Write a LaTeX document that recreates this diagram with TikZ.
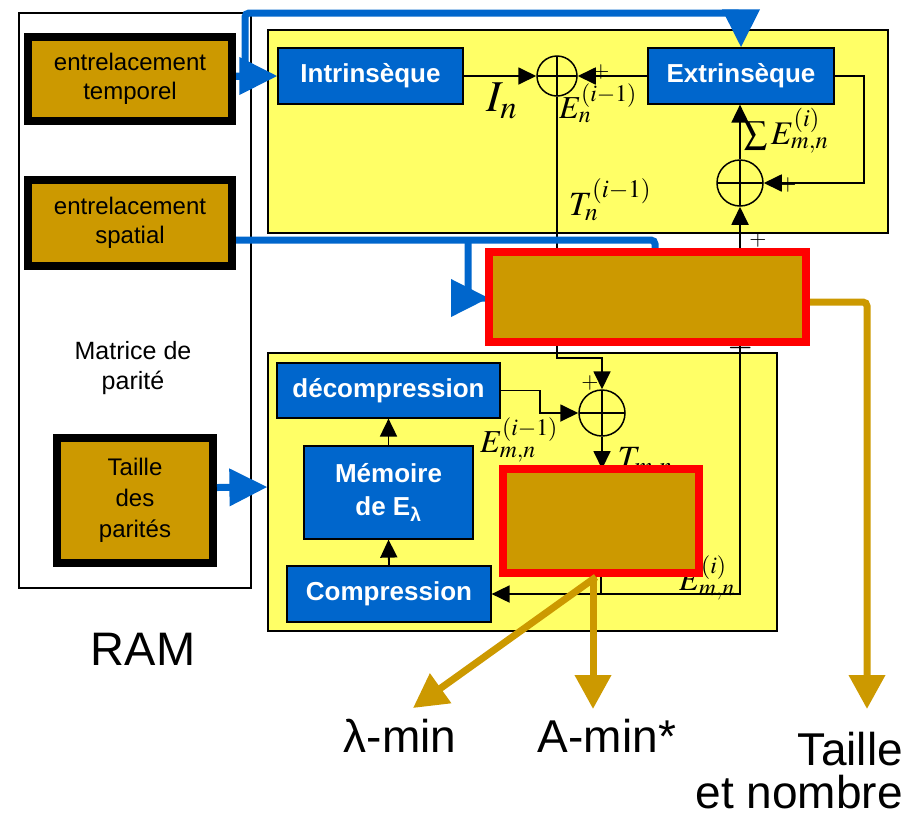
\documentclass[tikz,border=0pt]{standalone}
\usepackage{mathptmx}
\usepackage[no-math]{fontspec}
\setmainfont{Liberation Sans}
\usetikzlibrary{arrows.meta,positioning,calc}
\definecolor{gold}{HTML}{CC9900}
\definecolor{bleu}{HTML}{0066CC}
\definecolor{pale}{HTML}{FFFF66}
\tikzset{%
  % classes
  bank/.style={draw, line width=1.2pt, inner sep=0pt},
  store/.style={draw, line width=8pt, fill=gold, align=center, inner sep=0pt, font=\fontsize{24}{29}\selectfont},
  panel/.style={draw, fill=pale, line width=1.2pt, inner sep=0pt},
  unit/.style={draw, fill=bleu, text=white, line width=1.2pt, align=center, inner sep=0pt, font=\bfseries\fontsize{26}{33}\selectfont},
  adder/.style={circle, draw, line width=1.5pt, minimum size=#1, inner sep=0pt,
    path picture={\draw[line width=1.5pt] (path picture bounding box.north) -- (path picture bounding box.south)
      (path picture bounding box.west) -- (path picture bounding box.east);}},
  adder/.default=46pt,
  core/.style={draw=red, fill=gold, line width=8pt, inner sep=0pt},
  note/.style={align=center, inner sep=0pt, font=\fontsize{25}{30}\selectfont},
  lbl/.style={inner sep=0pt, font=\fontsize{32}{38}\selectfont},
  sign/.style={inner sep=0pt, font=\fontsize{22}{22}\selectfont},
  big/.style={inner sep=0pt, font=\fontsize{46}{43}\selectfont},
  % edge styles
  wire/.style={line width=1.8pt},
  rel/.style={-{Triangle[length=18pt,width=17pt]}, line width=1.8pt},
  bus/.style={bleu, line width=7pt, rounded corners=4pt},
  feed/.style={-{Triangle[length=38pt,width=36pt]}, bleu, line width=7pt, rounded corners=4pt},
  export/.style={-{Triangle[length=34pt,width=35pt]}, gold, line width=7pt, rounded corners=4pt},
}

\begin{document}
\begin{tikzpicture}[x=1pt, y=-1pt]
  \useasboundingbox (0,0) rectangle (912,815);

  % memory side
  \node[bank, minimum width=232pt, minimum height=575pt] (ram) at (135,300.5) {};
  \node[store, minimum width=204pt, minimum height=84pt] (temporel) at (130,79) {entrelacement\\temporel};
  \node[store, minimum width=204pt, minimum height=86pt] (spatial) at (130,223) {entrelacement\\spatial};
  \node[note] (matrice) at (133,368) {Matrice de\\parité};
  \node[store, minimum width=156pt, minimum height=125pt, font=\fontsize{24}{31}\selectfont] (taille) at (135,500.5) {Taille\\des\\parités};
  \node[big, anchor=base, font=\fontsize{47}{47}\selectfont] (ramlbl) at (143,665) {RAM};

  % decoder panels
  \node[panel, minimum width=620pt, minimum height=203pt] (upper) at (578,131.5) {};
  \node[panel, minimum width=509pt, minimum height=278pt] (lower) at (522.5,492) {};

  \node[unit, minimum width=185pt, minimum height=56pt] (intr) at (370.5,76) {Intrinsèque};
  \node[unit, minimum width=186pt, minimum height=56pt] (extr) at (741,76) {Extrinsèque};
  \node[adder=40pt] (c1) at (557,76) {};
  \node[adder] (c2) at (740,183) {};

  \node[unit, minimum width=223pt, minimum height=55pt] (decomp) at (388.5,390.5) {décompression};
  \node[unit, minimum width=169pt, minimum height=93pt] (memoire) at (388.5,492.5) {Mémoire\\de E\textsubscript{λ}};
  \node[unit, minimum width=204pt, minimum height=56pt] (comp) at (389,594) {Compression};
  \node[adder] (c3) at (602,413) {};

  % black links
  \draw[rel] (intr.east) -- (c1.west);
  \draw[rel] (extr.west) -- (c1.east);
  \draw[rel] (extr.east) -- ++(29,0) |- (c2.east);
  \draw[rel] (c2.north) -- (c2.north |- extr.south);
  \draw[wire] (c1.south) -- (c1 |- 0,252);
  \draw[rel] (c2 |- 0,252) -- (c2.south);
  \draw[rel] (c1 |- 0,342) -- ++(0,16) -| (c3.north);
  \draw[rel] (decomp.east) -- ++(39,0) |- (c3.west);
  \draw[rel] (c3.south) -- (c3 |- 0,469);
  \draw[rel] (memoire.north) -- (decomp.south);
  \draw[rel] (comp.north) -- (memoire.south);
  \draw[wire] (601,573) -- (601,594);
  \draw[rel] (c2 |- 0,342) -- (c2 |- comp.east) -- (comp.east);

  % labels
  \node[lbl, font=\fontsize{44}{44}\selectfont] (in) at (502,101) {$I_n$};
  \node[lbl] (en) at (598,103) {$E_n^{(i-1)}$};
  \node[lbl, font=\fontsize{34}{34}\selectfont] (tn) at (610,200) {$T_n^{(i-1)}$};
  \node[lbl, font=\fontsize{33}{33}\selectfont] (sum) at (786,131) {$\sum E_{m,n}^{(i)}$};
  \node[lbl] (emn) at (519,440) {$E_{m,n}^{(i-1)}$};
  \node[lbl, font=\fontsize{34}{34}\selectfont] (tmn) at (645,463) {$T_{m,n}$};
  \node[lbl] (emni) at (707,578) {$E_{m,n}^{(i)}$};
  \node[sign] (p1) at (601,72) {$+$};
  \node[sign] (p2) at (788,185) {$+$};
  \node[sign] (p3) at (758,240) {$+$};
  \node[sign] (p4) at (590,383) {$+$};

  % blue feeds
  \coordinate (split) at (468,240);
  \coordinate (corein) at (489,298);
  \draw[feed] (temporel.east |- intr.west) -- (intr.west);
  \draw[feed] (temporel.east |- intr.west) -| ++(9,-63) -| (extr.north);
  \draw[bus] ([yshift=-17pt]spatial.east) -- ++(419,0) -- ++(0,12);
  \draw[feed] (split) |- (corein);
  \draw[feed] ([yshift=13pt]taille.east) -- (lower.west |- 0,487);

  % working stores
  \node[core, minimum width=317pt, minimum height=90pt] (core) at (647.5,297) {};
  \node[core, minimum width=196pt, minimum height=104pt] (mini) at (601,521) {};
  \node[sign, font=\fontsize{34}{34}\selectfont] (minus) at (741,348) {$-$};

  % outputs
  \coordinate (lamtip) at (413,708);
  \coordinate (amintip) at (593,709);
  \coordinate (tailletip) at (867,709);
  \draw[export] ([xshift=-5pt]mini.south) -- (lamtip);
  \draw[export] ([xshift=-8pt]mini.south) -- (amintip);
  \draw[export] ([yshift=-5pt]core.east) -| (tailletip);
  \node[big, anchor=base] (lmin) at (400,752) {λ-min};
  \node[big, anchor=base] (amin) at (607,752) {A-min*};
  \node[big, anchor=base east, align=right] (tnb) at (903,808) {Taille\\et nombre};
\end{tikzpicture}
\end{document}
